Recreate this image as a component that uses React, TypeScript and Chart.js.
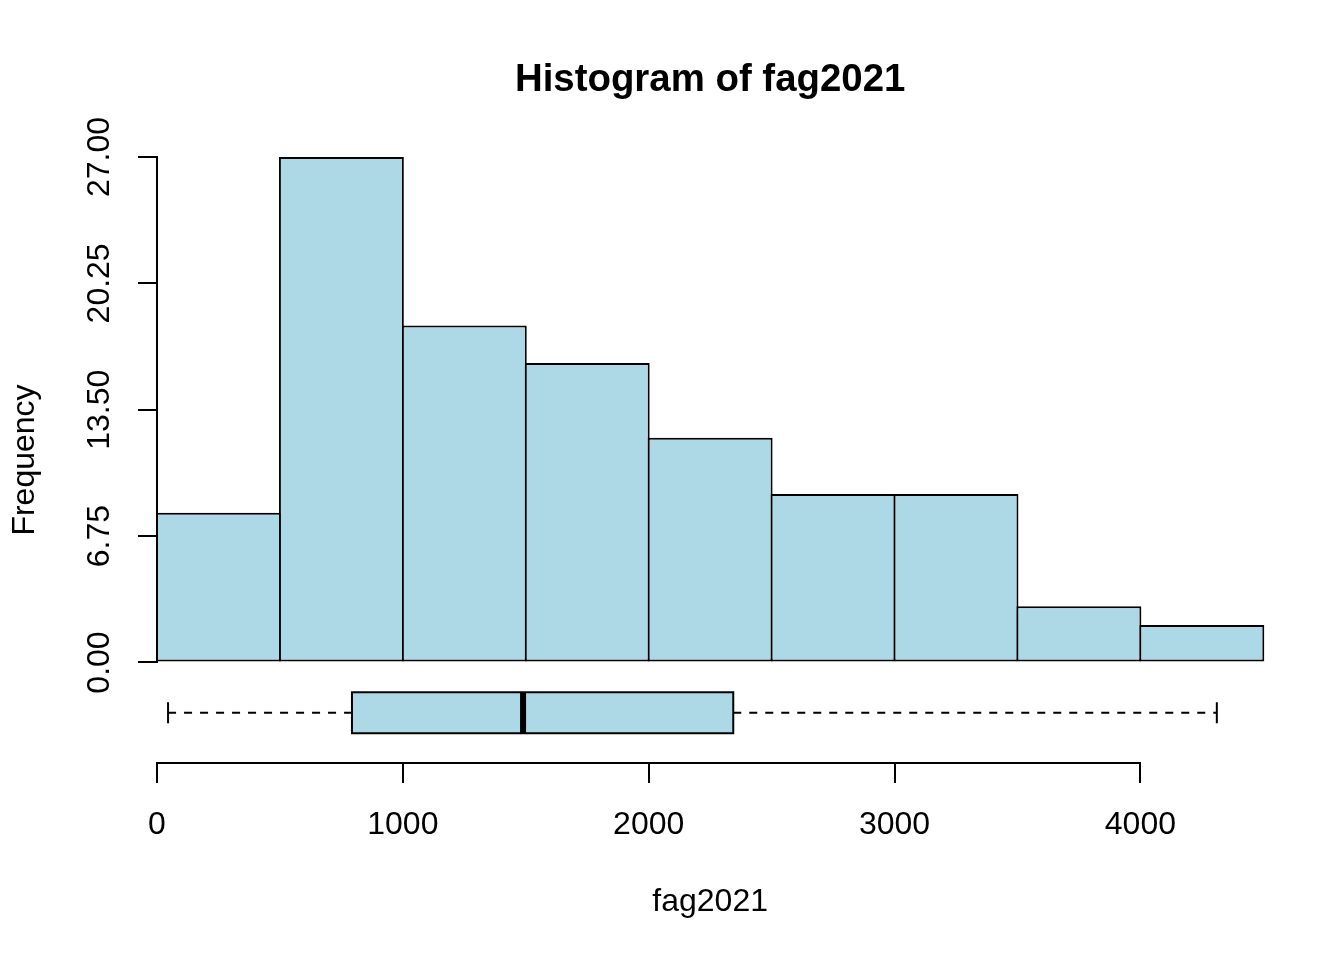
import React, { useEffect, useRef } from 'react';
import { Chart, registerables } from 'chart.js';

Chart.register(...registerables);

// ---- data ----
const BIN_EDGES = [0, 500, 1000, 1500, 2000, 2500, 3000, 3500, 4000, 4500];
const COUNTS = [8, 27, 18, 16, 12, 9, 9, 3, 2];
// boxplot: lower whisker, Q1, median, Q3, upper whisker
const BOX_STATS = [45, 793, 1489, 2344, 4311];
const X_TICKS = [0, 1000, 2000, 3000, 4000];
const Y_TICKS = [0, 6.75, 13.5, 20.25, 27];
const TITLE = 'Histogram of fag2021';
const X_LABEL = 'fag2021';
const Y_LABEL = 'Frequency';

// ---- layout / style constants ----
const FONT = 'Arial, "Liberation Sans", sans-serif';
const FILL = '#ADD8E6';
const Y_MIN = -5.368;
const BOX_CENTER = -2.6885;
const BOX_HALF = 1.0955;
const CAP_HALF = 0.561;

const axisLines = {
  id: 'axisLines',
  afterDatasetsDraw(chart: any) {
    const { ctx, chartArea, scales } = chart;
    const xs = scales.x;
    const ys = scales.y;
    ctx.save();
    ctx.strokeStyle = '#000';
    ctx.lineWidth = 2;
    ctx.lineCap = 'butt';
    ctx.beginPath();
    const yTop = ys.getPixelForValue(Y_TICKS[Y_TICKS.length - 1]);
    const yBot = ys.getPixelForValue(Y_TICKS[0]);
    ctx.moveTo(chartArea.left, Math.round(yBot) + 1);
    ctx.lineTo(chartArea.left, Math.round(yTop) - 1);
    const xL = xs.getPixelForValue(X_TICKS[0]);
    const xR = xs.getPixelForValue(X_TICKS[X_TICKS.length - 1]);
    ctx.moveTo(Math.round(xL) - 1, chartArea.bottom);
    ctx.lineTo(Math.round(xR) + 1, chartArea.bottom);
    ctx.stroke();
    ctx.restore();
  },
};

export default function App() {
  const ref = useRef<HTMLCanvasElement>(null);

  useEffect(() => {
    const canvas = ref.current;
    if (!canvas) return;

    const histData = COUNTS.map((c, i) => ({
      x: (BIN_EDGES[i] + BIN_EDGES[i + 1]) / 2,
      y: c,
    }));
    const [wLo, q1, med, q3, wHi] = BOX_STATS;
    const bt = BOX_CENTER + BOX_HALF;
    const bb = BOX_CENTER - BOX_HALF;

    const lineBase = {
      type: 'line' as const,
      borderColor: '#000',
      borderWidth: 2,
      pointRadius: 0,
      pointHoverRadius: 0,
      fill: false,
      tension: 0,
      clip: false as const,
    };

    const chart = new Chart(canvas, {
      type: 'bar',
      data: {
        datasets: [
          {
            ...lineBase,
            order: 0,
            borderWidth: 6,
            borderCapStyle: 'butt',
            data: [
              { x: med, y: bt },
              { x: med, y: bb },
            ],
          } as any,
          {
            ...lineBase,
            order: 1,
            backgroundColor: FILL,
            fill: 'shape',
            borderCapStyle: 'square',
            borderJoinStyle: 'miter',
            data: [
              { x: q1, y: bt },
              { x: q3, y: bt },
              { x: q3, y: bb },
              { x: q1, y: bb },
              { x: q1, y: bt },
            ],
          } as any,
          {
            ...lineBase,
            order: 2,
            borderDash: [8, 8],
            data: [
              { x: wLo, y: BOX_CENTER },
              { x: q1, y: BOX_CENTER },
            ],
          } as any,
          {
            ...lineBase,
            order: 3,
            borderDash: [8, 8],
            data: [
              { x: q3, y: BOX_CENTER },
              { x: wHi, y: BOX_CENTER },
            ],
          } as any,
          {
            ...lineBase,
            order: 4,
            data: [
              { x: wLo, y: BOX_CENTER + CAP_HALF },
              { x: wLo, y: BOX_CENTER - CAP_HALF },
            ],
          } as any,
          {
            ...lineBase,
            order: 5,
            data: [
              { x: wHi, y: BOX_CENTER + CAP_HALF },
              { x: wHi, y: BOX_CENTER - CAP_HALF },
            ],
          } as any,
          {
            type: 'bar',
            order: 10,
            data: histData as any,
            backgroundColor: FILL,
            borderColor: '#000',
            borderWidth: 2,
            borderSkipped: false,
            inflateAmount: 0,
            barPercentage: 1.0163,
            categoryPercentage: 1,
            clip: false,
          } as any,
        ],
      },
      options: {
        animation: false,
        responsive: false,
        devicePixelRatio: 1,
        events: [],
        layout: { padding: { left: 0, right: 80.7, top: 0, bottom: 0 } },
        plugins: {
          legend: { display: false },
          tooltip: { enabled: false },
          title: {
            display: true,
            text: TITLE,
            fullSize: false,
            color: '#000',
            font: { family: FONT, size: 38.4, weight: 'bold' },
            padding: { top: 57, bottom: 53.92 },
          },
        },
        scales: {
          x: {
            type: 'linear',
            offset: false,
            min: BIN_EDGES[0],
            max: BIN_EDGES[BIN_EDGES.length - 1],
            afterBuildTicks: (s: any) => {
              s.ticks = X_TICKS.map((v) => ({ value: v }));
            },
            afterFit: (s: any) => {
              s.height = 197;
            },
            border: { display: false },
            grid: {
              offset: false,
              drawOnChartArea: false,
              drawTicks: true,
              tickLength: 20,
              tickWidth: 2,
              tickColor: '#000',
              lineWidth: 2,
              color: '#000',
            },
            ticks: {
              autoSkip: false,
              maxRotation: 0,
              minRotation: 0,
              padding: 23,
              color: '#000',
              font: { family: FONT, size: 32 },
              callback: (v: any) => String(v),
            },
            title: {
              display: true,
              text: X_LABEL,
              color: '#000',
              font: { family: FONT, size: 32 },
              padding: { top: 0, bottom: 38.8 },
            },
          },
          y: {
            type: 'linear',
            position: 'left',
            min: Y_MIN,
            max: Y_TICKS[Y_TICKS.length - 1],
            afterBuildTicks: (s: any) => {
              s.ticks = Y_TICKS.map((v) => ({ value: v }));
            },
            afterFit: (s: any) => {
              s.width = 157;
            },
            border: { display: false },
            grid: {
              drawOnChartArea: false,
              drawTicks: true,
              tickLength: 19,
              tickWidth: 2,
              tickColor: '#000',
              lineWidth: 2,
              color: '#000',
            },
            ticks: {
              autoSkip: false,
              minRotation: 90,
              maxRotation: 90,
              crossAlign: 'center',
              padding: -2.4,
              color: '#000',
              font: { family: FONT, size: 32 },
              callback: (v: any) => Number(v).toFixed(2),
            },
            title: {
              display: true,
              text: Y_LABEL,
              color: '#000',
              font: { family: FONT, size: 32 },
              padding: { top: 5.8, bottom: 0 },
            },
          },
        },
      } as any,
      plugins: [axisLines],
    } as any);

    return () => chart.destroy();
  }, []);

  return (
    <div
      style={{
        position: 'absolute',
        left: 0,
        top: 0,
        width: 1344,
        height: 960,
        background: '#fff',
      }}
    >
      <canvas
        ref={ref}
        width={1344}
        height={960}
        style={{ display: 'block', width: 1344, height: 960 }}
      />
    </div>
  );
}
